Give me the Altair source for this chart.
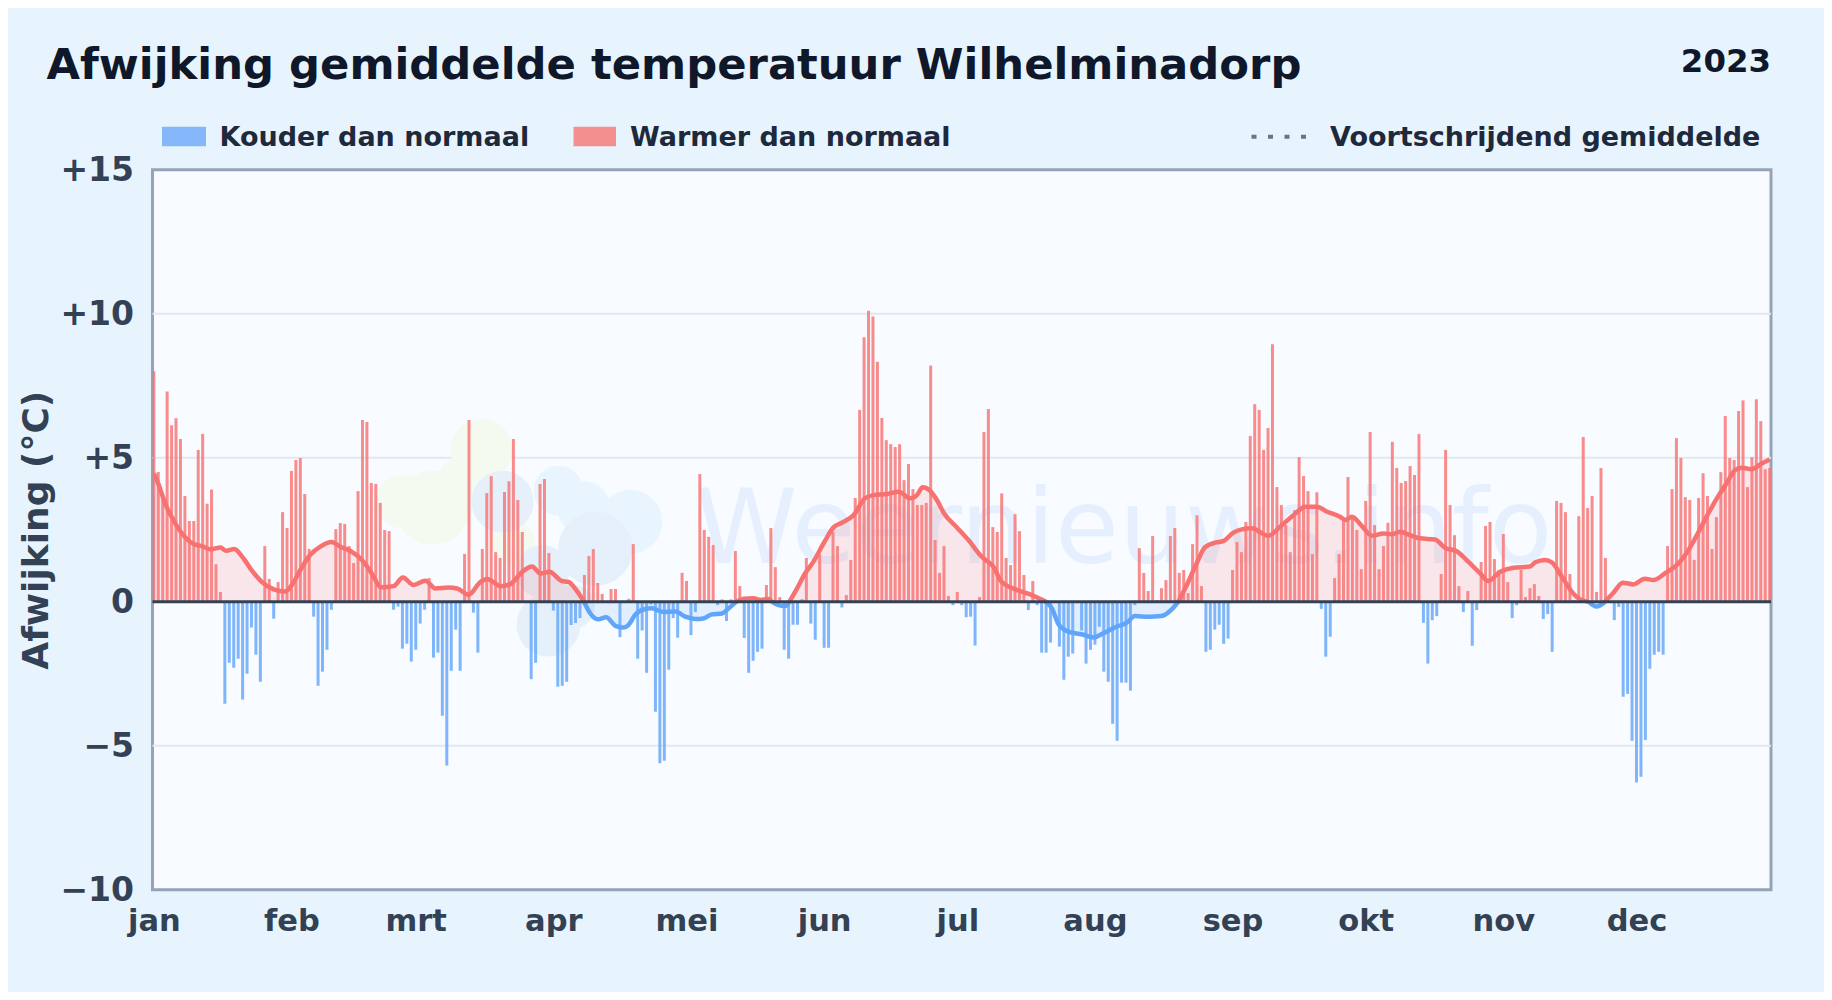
import altair as alt
import pandas as pd

# Daily deviation in deg C (index = day of the year, 0 = 1 Jan)
deviation = [
 8.0,4.5,3.7,7.3,6.13,6.37,5.65,3.67,2.8,2.8,5.27,5.82,3.4,3.9,1.3,0.34,
 -3.54,-2.12,-2.29,-1.98,-3.4,-2.5,-0.9,-1.84,-2.78,1.93,0.79,-0.59,0.68,3.11,2.56,
 4.54,4.92,4.99,3.74,1.83,-0.52,-2.92,-2.43,-1.67,-0.28,2.52,2.73,2.7,1.93,1.34,3.84,6.31,6.24,4.12,4.09,3.43,2.49,2.45,
 -0.28,-0.17,-1.63,-1.46,-2.08,-1.67,-0.76,-0.28,0.82,-1.94,-1.77,-3.96,-5.69,-2.4,-0.97,-2.4,1.66,6.31,-0.38,-1.77,
 1.83,3.77,4.36,1.72,1.52,3.81,4.18,5.65,3.53,2.42,0.0,-2.69,-2.12,4.09,4.26,1.69,
 -0.31,-2.95,-2.92,-2.78,-0.81,-0.74,-0.57,0.93,1.59,1.83,0.65,0.27,0.0,0.44,0.44,-1.23,0.0,0.1,2.0,-1.98,
 -1.0,-2.47,-0.1,-3.82,-5.61,-5.52,-2.36,-0.57,-1.25,1.0,0.72,-1.16,-0.36,4.43,2.49,2.25,1.97,-0.12,0.08,-0.67,
 0.08,1.76,0.54,-1.26,-2.47,-2.05,-1.74,-1.63,0.58,2.56,1.2,0.16,-1.67,-1.98,-0.8,-0.8,0.09,1.52,-0.76,-1.32,1.65,
 -1.6,-1.6,2.42,1.93,-0.2,0.23,1.45,3.6,6.66,9.18,10.1,9.9,8.33,6.38,5.61,5.47,5.37,5.47,4.22,4.78,3.91,3.36,3.36,
 3.43,8.2,2.14,1.0,1.93,0.2,-0.12,0.34,-0.12,-0.54,-0.52,-1.52,0.16,5.89,6.69,2.59,2.42,3.76,1.52,1.27,3.04,2.45,
 0.93,-0.29,0.72,-0.12,-1.77,-1.77,-1.42,0.0,-1.56,-2.71,-1.91,-1.8,-0.05,-1.0,-2.15,-1.67,-1.49,-0.87,-2.43,-2.78,
 -4.24,-4.83,-2.81,-2.81,-3.09,-0.12,1.86,1.0,0.37,2.28,0.06,0.47,0.75,2.28,2.56,1.0,1.1,0.3,2.0,3.0,0.54,
 -1.74,-1.67,-0.97,-0.8,-1.46,-1.28,1.1,2.07,1.72,2.77,5.75,6.86,6.66,5.27,6.03,8.94,3.98,3.36,2.66,1.72,3.18,5.02,
 4.36,3.84,1.65,3.8,-0.25,-1.91,-1.22,0.82,1.65,2.8,4.33,3.0,2.49,1.13,3.5,5.89,2.66,1.13,1.93,2.74,5.55,4.64,4.12,
 4.19,4.71,4.4,5.82,-0.73,-2.15,-0.64,-0.5,0.96,5.27,3.36,2.31,0.54,-0.36,0.37,-1.53,-0.29,1.38,2.63,2.77,1.48,1.1,
 2.35,0.68,-0.57,-0.12,1.1,0.16,0.47,0.61,0.2,-0.6,-0.43,-1.74,3.5,3.43,3.11,0.96,0.05,2.97,5.72,3.25,3.67,0.34,
 4.64,1.52,0.0,-0.64,-0.18,-3.3,-3.2,-4.83,-6.28,-6.08,-4.8,-2.33,-1.84,-1.74,-1.84,1.93,3.91,5.68,4.99,3.63,3.53,
 1.45,3.6,4.46,3.67,1.83,2.94,4.5,6.45,4.99,4.92,6.62,6.99,3.98,5.02,7.03,6.27,4.6,4.64,
]

# Running mean
ma_days = [0,1,2,3,4,5.5,7,9,10.8,12.8,15,16.3,18.1,20.2,22.1,24.3,27,29.6,31.1,33,35.2,37.5,40,42,44.2,46.9,49.1,51.2,54,56.1,58.5,61.2,63.4,66.4,68.3,70.9,73.6,75.1,78.1,80.3,83,85.2,87.1,89.1,
 91.9,93.4,94.9,96.9,98.3,100,101.9,104,105.8,106.9,108.4,110.3,112.2,114.8,117.5,119.7,122,123.8,125.7,128,129.5,131.2,132.9,135.1,136.6,138.5,139.2,140.7,142.2,143.2,144.9,146.7,148.6,150.9,153.1,155,157.6,160.2,162.1,165.1,167.8,170.4,171.9,173.2,174.5,176.4,178,
 180.9,183.5,186.5,189.1,191,194.4,197.8,201,202.3,203.8,206,209,211.7,213.9,216.5,219.2,221,224,227,229.3,230.8,232.7,234.9,236.8,239.1,241,243.2,245.1,247.3,251.1,253.7,256.7,259.4,262,264.2,
 267.2,268.4,269.9,272.1,274.4,277,278.9,280.7,283,285.2,288.6,290.9,293.5,296.1,298.8,300.6,303.3,306.3,310,311.2,313.4,314.9,317.2,319.4,320.9,323.2,325,326.9,328.8,330.9,333.3,335.9,337.8,340.4,343.8,345.7,348,350.2,352.1,354.3,356.2,357.7,359.9,362.2,364]
ma_values = [4.45,4.1,3.65,3.25,2.95,2.55,2.25,2.0,1.93,1.82,1.88,1.77,1.83,1.5,1.08,0.69,0.43,0.35,0.58,1.1,1.62,1.91,2.07,1.91,1.77,1.45,0.98,0.5,0.54,0.84,0.58,0.73,0.46,0.49,0.46,0.24,0.69,0.79,0.54,0.61,1.04,1.22,0.98,1.04,
 0.72,0.69,0.46,0,-0.4,-0.61,-0.54,-0.84,-0.9,-0.81,-0.46,-0.27,-0.23,-0.36,-0.34,-0.52,-0.6,-0.58,-0.44,-0.41,-0.23,0,0.1,0.12,0.06,0.09,0,-0.12,-0.15,0,0.46,0.98,1.39,2.03,2.58,2.74,3.0,3.59,3.7,3.74,3.82,3.59,3.7,3.97,3.9,3.53,3.07,
 2.58,2.14,1.56,1.22,0.69,0.41,0.23,0,-0.23,-0.78,-1.04,-1.13,-1.24,-1.1,-0.89,-0.73,-0.5,-0.52,-0.5,-0.27,0,0.58,1.33,1.89,2.05,2.11,2.4,2.51,2.55,2.29,2.6,3.0,3.3,3.3,3.13,
 2.95,2.84,2.95,2.63,2.29,2.37,2.34,2.43,2.31,2.2,2.16,1.87,1.75,1.39,0.98,0.72,1.04,1.18,1.22,1.37,1.45,1.37,0.87,0.35,0.12,0,-0.17,0,0.31,0.66,0.6,0.8,0.75,0.98,1.39,1.79,2.43,3.07,3.59,4.11,4.57,4.65,4.6,4.8,4.94]

month_starts = [0,31,59,90,120,151,181,212,243,273,304,334]
month_names = ["jan","feb","mrt","apr","mei","jun","jul","aug","sep","okt","nov","dec"]
y_ticks = [-10,-5,0,5,10,15]
grid_values = [-5,5,10]

title_text = "Afwijking gemiddelde temperatuur Wilhelminadorp"
year_text = "2023"
legend_cold = "Kouder dan normaal"
legend_warm = "Warmer dan normaal"
legend_ma = "Voortschrijdend gemiddelde"
watermark_text = "Weernieuws.info"

# Faint logo behind the data, plot-relative pixels and circle radii
blob_x = [329,309,280,250,361, 406,431,478, 350,443,390,396,420]
blob_y = [280,309,338,332,373, 321,338,352, 332,379,402,455,437]
blob_r = [35,25,42,30,25, 28,30,36, 35,42,30,36,25]
blob_c = ["g","g","g","g","g", "l","l","l", "b","b","b","b","b"]

RED = "#f87171"
BLUE = "#60a5fa"
W, H = 1618.5, 720

x_scale = alt.Scale(domain=[-0.3, 364.3], nice=False, zero=False, padding=0)
y_scale = alt.Scale(domain=[-10, 15], nice=False)
one = pd.DataFrame({"a": [0]})

bars_df = pd.DataFrame({"day": range(len(deviation)), "v": deviation})
bars_df["kind"] = ["warm" if v >= 0 else "cold" for v in deviation]

# Split the running mean in stretches of one sign; zero points close both stretches
rows = []
seg = 0
prev = None
for d, v in zip(ma_days, ma_values):
    s = "warm" if v > 0 else ("cold" if v < 0 else None)
    if v == 0 and prev is not None:
        rows.append({"day": d, "v": v, "kind": prev, "seg": seg})
        seg += 1
        prev = None
        rows.append({"day": d, "v": v, "kind": None, "seg": seg})
        continue
    if prev is None:
        prev = s
        for r in rows:
            if r["kind"] is None:
                r["kind"] = s
    rows.append({"day": d, "v": v, "kind": s, "seg": seg})
ma_df = pd.DataFrame(rows).dropna(subset=["kind"])

color = alt.Color("kind:N", scale=alt.Scale(domain=["cold", "warm"], range=[BLUE, RED]), legend=None)
X = alt.X("day:Q", scale=x_scale, title=None, axis=alt.Axis(
    values=month_starts, grid=False, ticks=False, domain=False, labelFontSize=30.5, labelFontWeight="bold",
    labelColor="#334155", labelPadding=17, labelFont="DejaVu Sans", labelFlush=False,
    labelExpr="{0:'jan',31:'feb',59:'mrt',90:'apr',120:'mei',151:'jun',181:'jul',212:'aug',243:'sep',273:'okt',304:'nov',334:'dec'}[datum.value]"))
Y = alt.Y("v:Q", scale=y_scale, title="Afwijking (°C)", axis=alt.Axis(
    values=y_ticks, grid=False, ticks=False, domain=False, labelOffset=1,
    labelFontSize=33, labelFontWeight="bold", labelColor="#334155", labelPadding=19, labelFont="DejaVu Sans",
    labelExpr="datum.value>0?'+'+datum.value:(datum.value<0?'\u2212'+abs(datum.value):'0')",
    titleFontSize=36, titleFontWeight="bold", titleColor="#334155", titleFont="DejaVu Sans", titlePadding=4))

grid = alt.Chart(pd.DataFrame({"g": grid_values})).mark_rule(color="#e2e8f0", strokeWidth=2).encode(
    y=alt.Y("g:Q", scale=y_scale))
blobs = alt.Chart(pd.DataFrame({"x": blob_x, "y": blob_y, "r2": [3.1416 * r * r for r in blob_r], "c": blob_c})).mark_circle(opacity=1).encode(
    x=alt.X("x:Q", scale=None), y=alt.Y("y:Q", scale=None), size=alt.Size("r2:Q", scale=None),
    order=alt.Order("o:Q"),
    color=alt.Color("c:N", scale=alt.Scale(domain=["g", "l", "b"], range=["#f5faf0", "#e9f5fe", "#e6f0fa"]), legend=None)
).transform_calculate(o="datum.c==='g'?0:(datum.c==='l'?1:2)")
watermark = alt.Chart(one).mark_text(align="center", baseline="middle", fontSize=104, fontWeight="normal", font="DejaVu Sans",
                                     color="#3b82f6", opacity=0.09, clip=False).encode(
    x=alt.value(971), y=alt.value(362), text=alt.value(watermark_text))

area = alt.Chart(ma_df).mark_area(opacity=0.15, interpolate="monotone").encode(
    x=alt.X("day:Q", scale=x_scale), y=alt.Y("v:Q", scale=y_scale), y2=alt.Y2(datum=0), color=color, detail="seg:N")
bars = alt.Chart(bars_df).mark_bar(size=3, opacity=0.8, orient="vertical", clip=True).encode(
    x=X, y=Y, y2=alt.Y2(datum=0), color=color)
line = alt.Chart(ma_df).mark_line(strokeWidth=4.5, interpolate="monotone", clip=True).encode(
    x=alt.X("day:Q", scale=x_scale), y=alt.Y("v:Q", scale=y_scale), color=color, detail="seg:N")
zero = alt.Chart(one).mark_rule(color="#334155", strokeWidth=3).encode(y=alt.Y(datum=0, scale=y_scale))


def label(text, x, y, size, color_, align="left", weight="bold"):
    return alt.Chart(one).mark_text(align=align, baseline="middle", fontSize=size, fontWeight=weight,
                                    font="DejaVu Sans", color=color_).encode(
        x=alt.value(x), y=alt.value(y), text=alt.value(text))


def swatch(x, x2, c):
    return alt.Chart(one).mark_rect(color=c).encode(
        x=alt.value(x), x2=alt.value(x2), y=alt.value(-43), y2=alt.value(-23.5))


dots = alt.Chart(one).mark_rule(color="#64748b", strokeWidth=4, strokeDash=[5, 11.5]).encode(
    x=alt.value(1099), x2=alt.value(1157), y=alt.value(-33))

chart = alt.layer(
    grid, blobs, watermark, area, bars, line, zero,
    label(title_text, -106, -103.5, 43.3, "#0f172a"),
    label(year_text, W, -108, 32.4, "#0f172a", align="right"),
    swatch(9.5, 53.5, "#85b8fb"),
    label(legend_cold, 67, -32, 27, "#1e293b"),
    swatch(421, 463.5, "#f48f8f"),
    label(legend_warm, 477.5, -32, 27, "#1e293b"),
    dots,
    label(legend_ma, 1177.5, -32, 27, "#1e293b"),
).resolve_scale(color="independent").properties(
    width=W, height=H, background="#e8f4fd",
    padding={"left": 144.5, "top": 161.7, "right": 53, "bottom": 102.3},
    autosize=alt.AutoSizeParams(type="none"),
).configure_view(fill="#f8fbff", stroke="#94a3b8", strokeWidth=3)

chart.save("out.html", embed_options={"renderer": "svg", "actions": False})
